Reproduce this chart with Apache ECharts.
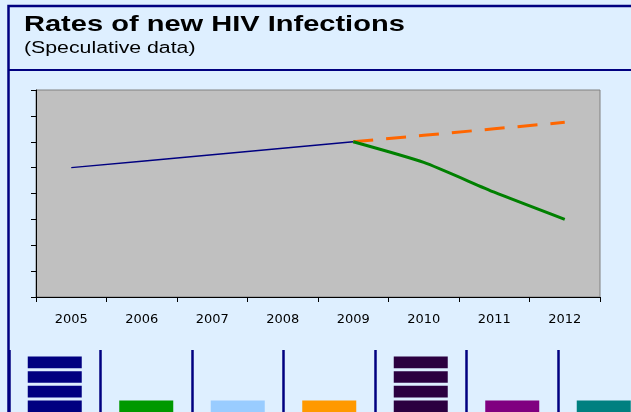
<!DOCTYPE html>
<html><head><meta charset="utf-8">
<script src="https://cdn.jsdelivr.net/npm/echarts@6/dist/echarts.min.js"></script>
<style>html,body{margin:0;padding:0;background:#DEEFFF}#c{width:631px;height:412px}</style>
</head><body><div id="c"></div>
<script>
// ---- data ----
const titleText = 'Rates of new HIV Infections';
const subtitleText = '(Speculative data)';
const years = ['2005', '2006', '2007', '2008', '2009', '2010', '2011', '2012'];
const pastRate = [5, 5.25, 5.5, 5.75, 6, null, null, null];
const noActionRate = [null, null, null, null, 6, 6.25, 6.5, 6.75];
const actionRate = [null, null, null, null, 6, 5.2, 4.05, 3.0];
const yMin = 0, yMax = 8, yStep = 1;
const iconCategories = ['c1', 'c2', 'c3', 'c4', 'c5', 'c6', 'c7'];
const iconCounts = [4, 1, 1, 1, 4, 1, 1];

// ---- styles ----
const iconColors = ['#000080', '#009900', '#99CCFF', '#FF9900', '#2B0040', '#800080', '#008080'];
const BG = '#DEEFFF', NAVY = '#000080';
const SEG_PITCH = 14.6, SEG_GAP = 3, SEG_W = 54;

const chart = echarts.init(document.getElementById('c'), null, {renderer: 'canvas'});
chart.setOption({
  backgroundColor: BG,
  animation: false,
  graphic: [
    {type: 'rect', shape: {x: 8.5, y: 6, width: 800, height: 600}, style: {fill: null, stroke: NAVY, lineWidth: 2.5}, z: 10},
    {type: 'line', shape: {x1: 9, y1: 70, x2: 640, y2: 70}, style: {stroke: NAVY, lineWidth: 2}, z: 10},
    {type: 'text', x: 24, y: 25, scaleX: 1.32, style: {text: titleText, font: 'bold 22px "Liberation Sans", Arial, sans-serif', fill: '#000', verticalAlign: 'middle', align: 'left'}},
    {type: 'text', x: 24, y: 48.5, scaleX: 1.33, style: {text: subtitleText, font: '16px "Liberation Sans", Arial, sans-serif', fill: '#000', verticalAlign: 'middle', align: 'left'}}
  ],
  grid: [
    {left: 36, top: 90, width: 564, height: 207, show: true, backgroundColor: '#C0C0C0', borderColor: '#808080', borderWidth: 1, outerBoundsMode: 'none'},
    {left: 9, top: 350, width: 640.5, height: 63.5, show: false, outerBoundsMode: 'none'}
  ],
  xAxis: [
    {type: 'category', gridIndex: 0, data: years, boundaryGap: true,
     axisLine: {lineStyle: {color: '#000', width: 1}},
     axisTick: {show: true, length: 5, lineStyle: {color: '#000'}},
     axisLabel: {color: '#000', fontFamily: 'DejaVu Sans', fontSize: 13, margin: 16},
     splitLine: {show: false}},
    {type: 'category', gridIndex: 1, data: iconCategories, position: 'top', boundaryGap: true,
     axisLine: {show: true, lineStyle: {color: NAVY, width: 2.5}},
     axisTick: {show: false}, axisLabel: {show: false},
     splitLine: {show: true, lineStyle: {color: NAVY, width: 2.5}}}
  ],
  yAxis: [
    {type: 'value', gridIndex: 0, min: yMin, max: yMax, interval: yStep,
     axisLine: {show: true, lineStyle: {color: '#000', width: 1}},
     axisTick: {show: true, length: 5, lineStyle: {color: '#000'}},
     axisLabel: {show: false}, splitLine: {show: false}},
    {type: 'value', gridIndex: 1, min: 0, max: 63.5 / SEG_PITCH,
     axisLine: {show: false}, axisTick: {show: false}, axisLabel: {show: false}, splitLine: {show: false}}
  ],
  series: [
    {type: 'line', xAxisIndex: 0, yAxisIndex: 0, data: pastRate, symbol: 'none',
     lineStyle: {color: NAVY, width: 1.5}},
    {type: 'line', xAxisIndex: 0, yAxisIndex: 0, data: noActionRate, symbol: 'none',
     lineStyle: {color: '#FF6600', width: 3, type: [20, 13]}},
    {type: 'line', xAxisIndex: 0, yAxisIndex: 0, data: actionRate, symbol: 'none', smooth: 0.2,
     lineStyle: {color: '#008000', width: 3}},
    {type: 'custom', xAxisIndex: 1, yAxisIndex: 1,
     data: iconCounts.map((v, i) => [i, v]),
     renderItem: function (params, api) {
       const idx = api.value(0), n = api.value(1);
       const base = api.coord([idx, 0]);
       const pitch = api.size([0, 1])[1];
       const children = [];
       for (let k = 0; k < n; k++) {
         children.push({type: 'rect',
           shape: {x: base[0] - SEG_W / 2, y: base[1] - (k + 1) * pitch + SEG_GAP / 2, width: SEG_W, height: pitch - SEG_GAP},
           style: {fill: iconColors[params.dataIndex]}});
       }
       return {type: 'group', children: children};
     }}
  ]
});
</script></body></html>
